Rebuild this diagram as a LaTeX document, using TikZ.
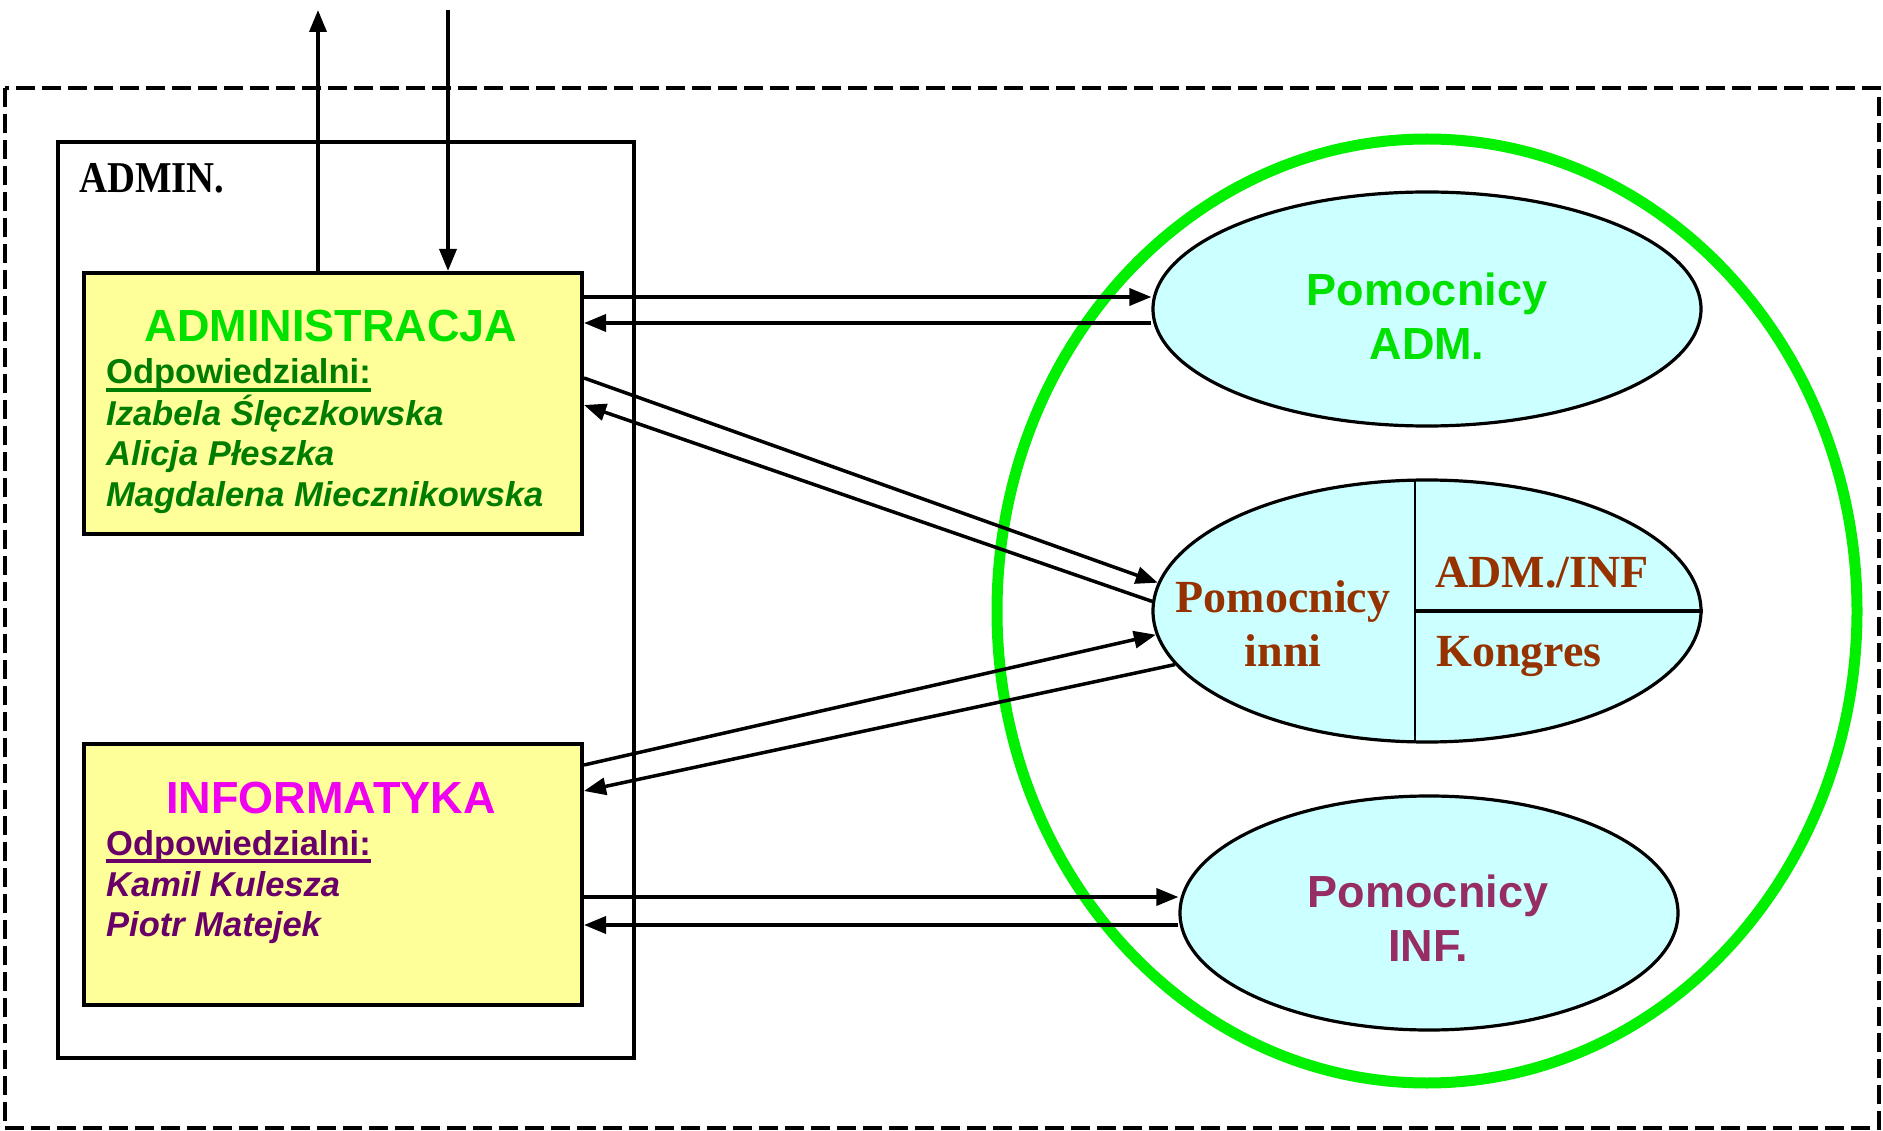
\documentclass[tikz,border=0pt]{standalone}
\usepackage{graphicx}
\usepackage{fontspec}
\newfontfamily\sansA{Liberation Sans}
\newfontfamily\serifT{Liberation Serif}
\usetikzlibrary{arrows.meta,shapes.geometric}
\definecolor{brgreen}{RGB}{0,225,0}
\definecolor{dkgreen}{RGB}{0,125,0}
\definecolor{ringgreen}{RGB}{0,240,0}
\definecolor{magent}{RGB}{240,0,240}
\definecolor{dkpurple}{RGB}{105,0,105}
\definecolor{plum}{RGB}{150,45,100}
\definecolor{brownred}{RGB}{150,50,0}
\definecolor{boxyellow}{RGB}{255,255,153}
\definecolor{cellcyan}{RGB}{204,255,255}
\begin{document}
\begin{tikzpicture}[x=1pt,y=-1pt,
  conn/.style={line width=3.5pt,-{Triangle[length=22pt,width=17pt]}},
  ybox/.style={draw,line width=4pt,fill=boxyellow,minimum width=498pt,minimum height=261pt,inner sep=0pt,anchor=north west},
  cell/.style={ellipse,draw,line width=3.2pt,fill=cellcyan,inner sep=0pt},
  sanslbl/.style={font=\sansA\bfseries\fontsize{45}{54}\selectfont,anchor=base,inner sep=0pt},
  namelbl/.style={font=\sansA\bfseries\itshape\fontsize{34.5}{40}\selectfont,anchor=base west,inner sep=0pt},
  headlbl/.style={font=\sansA\bfseries\fontsize{34.5}{40}\selectfont,anchor=base west,inner sep=0pt},
  seriflbl/.style={font=\serifT\bfseries\fontsize{46}{54}\selectfont,inner sep=0pt},
  uline/.style={line width=3.5pt}
]
\useasboundingbox (0,0) rectangle (1883,1131);
% outer dashed frame
\draw[line width=3.2pt,dash pattern=on 19pt off 7pt] (5,88) rectangle (1879,1128);
% ADMIN frame
\node[draw,line width=4pt,minimum width=576pt,minimum height=916pt,inner sep=0pt,anchor=north west] (frame) at (56,140) {};
\node[font=\serifT\bfseries\fontsize{44}{50}\selectfont,anchor=base west,inner sep=0pt] (framelbl) at (79,193) {\scalebox{0.88}[1]{ADMIN.}};
% green ring
\draw[ringgreen,line width=11pt] (1427,611) ellipse[x radius=430pt,y radius=472pt];
% boxes
\node[ybox] (adm) at (82,271) {};
\node[ybox] (inf) at (82,742) {};
\node[sanslbl,text=brgreen] (admt) at (331,342) {ADMINISTRACJA};
\node[headlbl,text=dkgreen] (admh) at (106,384) {Odpowiedzialni:};
\draw[uline,dkgreen] ([yshift=-6pt]admh.base west) -- ([yshift=-6pt]admh.base east);
\node[namelbl,text=dkgreen] (adm1) at (106,426) {Izabela Ślęczkowska};
\node[namelbl,text=dkgreen] (adm2) at (106,466) {Alicja Płeszka};
\node[namelbl,text=dkgreen] (adm3) at (106,506) {Magdalena Miecznikowska};
\node[sanslbl,text=magent] (inft) at (331,813) {INFORMATYKA};
\node[headlbl,text=dkpurple] (infh) at (106,855) {Odpowiedzialni:};
\draw[uline,dkpurple] ([yshift=-6pt]infh.base west) -- ([yshift=-6pt]infh.base east);
\node[namelbl,text=dkpurple] (inf1) at (106,896) {Kamil Kulesza};
\node[namelbl,text=dkpurple] (inf2) at (106,936) {Piotr Matejek};
% helper cells
\node[cell,minimum width=548pt,minimum height=234pt] (pa) at (1427,309) {};
\node[cell,minimum width=548pt,minimum height=262pt] (inni) at (1427,611) {};
\node[cell,minimum width=498pt,minimum height=234pt] (pi) at (1429,913) {};
\draw[line width=2.5pt] (1415,481) -- (1415,741);
\draw[line width=4pt] (1415,611) -- (inni.east);
\node[sanslbl,text=brgreen] (pa1) at (1427,306) {Pomocnicy};
\node[sanslbl,text=brgreen] (pa2) at (1427,360) {ADM.};
\node[sanslbl,text=plum] (pi1) at (1428,907) {Pomocnicy};
\node[sanslbl,text=plum] (pi2) at (1428,961) {INF.};
\node[seriflbl,text=brownred,anchor=base] (in1) at (1283,612) {Pomocnicy};
\node[seriflbl,text=brownred,anchor=base] (in2) at (1283,666) {inni};
\node[seriflbl,text=brownred,anchor=base] (in3) at (1542,587) {ADM./INF};
\node[seriflbl,text=brownred,anchor=base west] (in4) at (1436,666) {Kongres};
% connectors
\coordinate (up) at (318,10);
\coordinate (down) at (448,10);
\draw[conn] ([xshift=236pt]adm.north west) -- (up);
\draw[conn] (down) -- ([xshift=366pt]adm.north west);
\draw[conn] ([yshift=-26pt]adm.north east) -- ([yshift=12pt]pa.west);
\draw[conn] ([yshift=-14pt]pa.west) -- ([yshift=-52pt]adm.north east);
\draw[conn] ([yshift=-107pt]adm.north east) -- (inni.174.5);
\draw[conn] (inni.178.9) -- ([yshift=-134pt]adm.north east);
\draw[conn] ([yshift=-23pt]inf.north east) -- (inni.185.8);
\draw[conn] (inni.192) -- ([yshift=-49pt]inf.north east);
\draw[conn] ([yshift=-155pt]inf.north east) -- ([yshift=16pt]pi.west);
\draw[conn] ([yshift=-12pt]pi.west) -- ([yshift=-183pt]inf.north east);
\end{tikzpicture}
\end{document}
